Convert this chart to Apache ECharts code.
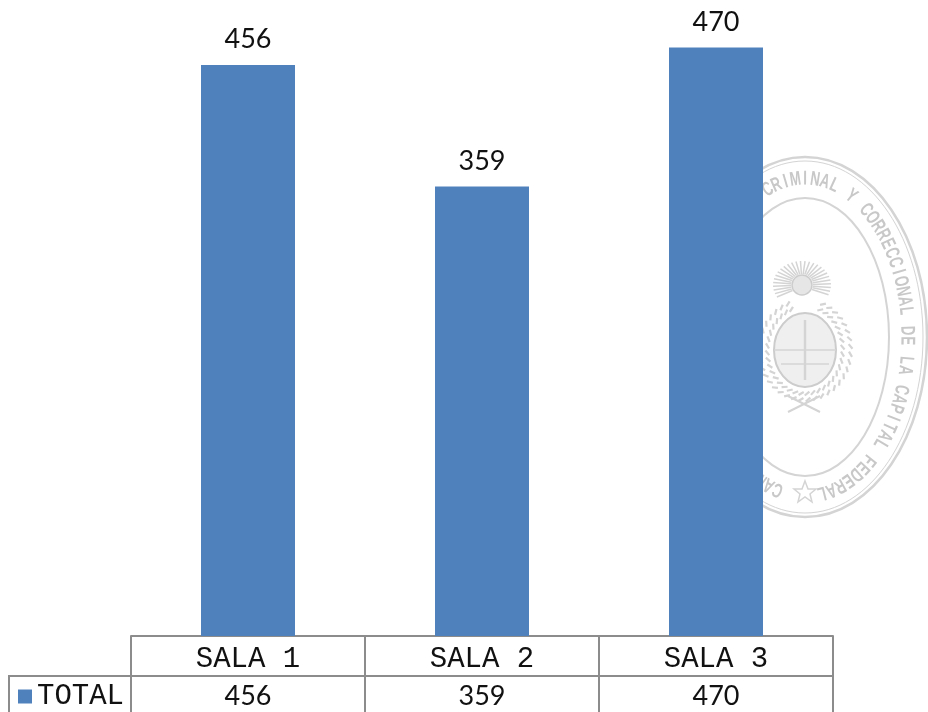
<!DOCTYPE html>
<html>
<head>
<meta charset="utf-8">
<style>html,body{margin:0;background:#fff}#chart{width:928px;height:712px}</style>
<script src="https://cdn.jsdelivr.net/npm/echarts@6/dist/echarts.min.js"></script>
</head>
<body>
<div id="chart"></div>
<script>
const categories = ['SALA 1', 'SALA 2', 'SALA 3'];
const totals = [456, 359, 470];
const seriesName = 'TOTAL';

const sealRight = 'CRIMINAL Y CORRECCIONAL DE LA CAPITAL FEDERAL';
const sealLeft = 'CAMARA';
const sealGrey = '#d4d4d4';
const lineGrey = '#8c8c8c';
const typeFont = '"Liberation Mono", monospace';
const digitFont = 'Lato, sans-serif';

// watermark stamp behind the last bar
function stamp() {
  const cx = 805, cy = 337;
  const els = [];
  const ring = (x, y, rx, ry, w) => els.push({
    type: 'ellipse', z: -1, shape: { cx: x, cy: y, rx, ry },
    style: { fill: 'none', stroke: sealGrey, lineWidth: w }
  });
  const stroke = (x1, y1, x2, y2, w) => els.push({
    type: 'line', z: -1, shape: { x1, y1, x2, y2 },
    style: { stroke: sealGrey, lineWidth: w }
  });
  ring(cx, cy, 122, 180, 2.5);
  ring(cx, cy, 118, 176, 1);
  ring(cx, cy, 84, 139, 2);

  // letters walked clockwise round the ellipse
  const rx = 102, ry = 158, gap = 9.9;
  const walk = (str, start) => {
    let t = start;
    for (const ch of str) {
      const x = cx + rx * Math.cos(t), y = cy + ry * Math.sin(t);
      const tx = -rx * Math.sin(t), ty = ry * Math.cos(t);
      els.push({
        type: 'text', z: -1, x, y, rotation: -(Math.atan2(ty, tx)), scaleX: 0.66,
        style: { text: ch, fill: '#c8c8c8', font: 'bold 20px "Liberation Sans", sans-serif', align: 'center', verticalAlign: 'middle' }
      });
      t += gap / Math.hypot(tx, ty);
    }
  };
  walk(sealRight, -1.942);
  walk(sealLeft, 1.839);

  els.push({
    type: 'polygon', z: -1,
    shape: { points: [[805, 481], [808, 489], [816, 489], [810, 494], [812, 502], [805, 497], [798, 502], [800, 494], [794, 489], [802, 489]] },
    style: { fill: 'none', stroke: sealGrey, lineWidth: 1.5 }
  });

  // sun
  const sx = 802, sy = 285;
  for (let a = 150; a <= 390; a += 9) {
    const r = a * Math.PI / 180;
    stroke(sx + 11 * Math.cos(r), sy + 11 * Math.sin(r), sx + 29 * Math.cos(r), sy + 24 * Math.sin(r), 1.5);
  }
  els.push({ type: 'circle', z: -1, shape: { cx: sx, cy: sy, r: 10 }, style: { fill: '#e6e6e6', stroke: '#cccccc', lineWidth: 1.5 } });

  // shield, laurel, ribbon
  const ex = 805, ey = 350;
  els.push({ type: 'ellipse', z: -1, shape: { cx: ex, cy: ey, rx: 31, ry: 37 }, style: { fill: '#efefef', stroke: '#cccccc', lineWidth: 2 } });
  stroke(ex - 31, ey, ex + 31, ey, 1.5);
  stroke(ex - 24, ey + 14, ex + 24, ey + 14, 1.5);
  stroke(ex, ey - 30, ex, ey + 30, 2.5);
  for (let a = -70; a <= 250; a += 9) {
    const r = a * Math.PI / 180;
    for (const k of [0, 1]) {
      const ax = ex + (36 + k * 8) * Math.cos(r), ay = ey + (42 + k * 6) * Math.sin(r);
      stroke(ax, ay, ax + 6 * Math.cos(r + 1), ay + 6 * Math.sin(r + 1), 2.2);
    }
  }
  stroke(788, 412, 820, 396, 2);
  stroke(788, 396, 820, 412, 2);
  return els;
}

const chart = echarts.init(document.getElementById('chart'), null, { renderer: 'canvas' });

// both table rows are category axes: the long ticks make the cell walls
chart.setOption({
  backgroundColor: '#ffffff',
  animation: false,
  grid: { left: 131, width: 702, top: 10, height: 626 },
  legend: {
    left: 13, top: 677, itemWidth: 14, itemHeight: 14, icon: 'rect',
    data: [seriesName],
    textStyle: { fontFamily: typeFont, fontSize: 29, color: '#111111' }
  },
  xAxis: [
    {
      type: 'category', position: 'bottom', data: categories,
      axisLine: { lineStyle: { color: lineGrey, width: 2 } },
      axisTick: { show: true, interval: 0, alignWithLabel: false, length: 40, lineStyle: { color: lineGrey, width: 2 } },
      axisLabel: { margin: 9, fontFamily: typeFont, fontSize: 29, color: '#111111' }
    },
    {
      type: 'category', position: 'bottom', offset: 40, data: totals.map(String),
      axisLine: { lineStyle: { color: lineGrey, width: 2 } },
      axisTick: { show: true, interval: 0, alignWithLabel: false, length: 40, lineStyle: { color: lineGrey, width: 2 } },
      axisLabel: { margin: 7, fontFamily: digitFont, fontSize: 27, color: '#111111' }
    }
  ],
  yAxis: { type: 'value', min: 0, max: 500, show: false },
  series: [{
    name: seriesName, type: 'bar', data: totals, barWidth: 94,
    itemStyle: { color: '#4f81bd' },
    label: { show: true, position: 'top', distance: 12, fontFamily: digitFont, fontSize: 27, color: '#111111' }
  }],
  graphic: stamp().concat([{
    type: 'polyline', z: 3,
    shape: { points: [[131, 676], [9, 676], [9, 712]] },
    style: { fill: 'none', stroke: lineGrey, lineWidth: 2 }
  }])
});
</script>
</body>
</html>
